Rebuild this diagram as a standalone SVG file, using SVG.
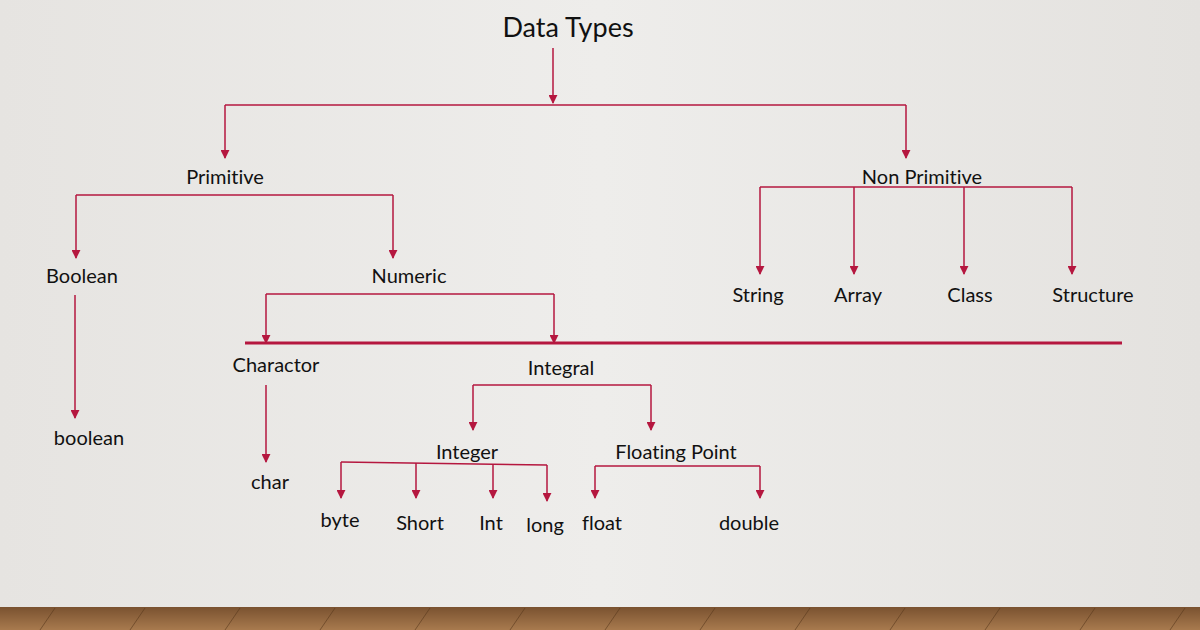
<svg xmlns="http://www.w3.org/2000/svg" width="1200" height="630" viewBox="0 0 1200 630">
<defs>
<linearGradient id="bg" x1="0" y1="0" x2="1" y2="0"><stop offset="0" stop-color="#e6e4e1"/><stop offset="0.5" stop-color="#eeedeb"/><stop offset="1" stop-color="#e4e2df"/></linearGradient>
<linearGradient id="wood" x1="0" y1="0" x2="0" y2="1"><stop offset="0" stop-color="#7a5230"/><stop offset="1" stop-color="#a87a4e"/></linearGradient>
<marker id="ah" viewBox="0 0 10 10" refX="9" refY="5" markerWidth="6" markerHeight="6" orient="auto"><path d="M0,0 L10,5 L0,10 z" fill="#b5173f"/></marker>
</defs>
<style>
text{font-family:Lato,"Open Sans","Liberation Sans",sans-serif;fill:#111;text-anchor:middle;font-size:20px;font-variant-ligatures:none}
text.t{font-size:27px}
.c{fill:none;stroke:#b5173f;stroke-width:1.5}
.a{marker-end:url(#ah)}
</style>
<rect width="1200" height="630" fill="url(#bg)"/>
<rect y="607" width="1200" height="23" fill="url(#wood)"/>
<g stroke="#5a3a1e" stroke-width="1" opacity="0.6">
<path d="M40,630 L55,608 M130,630 L145,608 M225,630 L240,608 M320,630 L335,608 M415,630 L430,608 M510,630 L525,608 M605,630 L620,608 M700,630 L715,608 M795,630 L810,608 M890,630 L905,608 M985,630 L1000,608 M1080,630 L1095,608 M1170,630 L1185,608"/>
</g>
<g id="connectors">
<path class="c a" d="M553,48 V103"/>
<path class="c" d="M225,105 H906"/>
<path class="c a" d="M225,105 V158"/><path class="c a" d="M906,105 V158"/>
<path class="c" d="M76,195 H393"/>
<path class="c a" d="M76,195 V258"/><path class="c a" d="M393,195 V258"/>
<path class="c a" d="M75,295 V418"/>
<path class="c" d="M266,294 H554"/>
<path class="c a" d="M266,294 V343"/><path class="c a" d="M554,294 V343"/>
<path d="M245,343 H1122" stroke="#b5173f" stroke-width="3"/>
<path class="c a" d="M266,385 V462"/>
<path class="c" d="M473,385 H651"/>
<path class="c a" d="M473,385 V430"/><path class="c a" d="M651,385 V430"/>
<path class="c" d="M341,462 L547,465"/>
<path class="c a" d="M341,462 V498"/><path class="c a" d="M416,463 V498"/><path class="c a" d="M493,464 V498"/><path class="c a" d="M547,465 V501"/>
<path class="c" d="M595,466 H760"/>
<path class="c a" d="M595,466 V498"/><path class="c a" d="M760,466 V498"/>
<path class="c" d="M760,187 H1072"/>
<path class="c a" d="M760,187 V274"/><path class="c a" d="M854,187 V274"/><path class="c a" d="M964,187 V274"/><path class="c a" d="M1072,187 V274"/>
</g>
<g id="data-types"><text class="t" x="568" y="37">Data Types</text></g>
<g id="primitive"><text x="225" y="184">Primitive</text></g>
<g id="non-primitive"><text x="922" y="184">Non Primitive</text></g>
<g id="boolean-cat"><text x="82" y="283">Boolean</text></g>
<g id="numeric"><text x="409" y="283">Numeric</text></g>
<g id="boolean"><text x="89" y="445">boolean</text></g>
<g id="charactor"><text x="276" y="372">Charactor</text></g>
<g id="integral"><text x="561" y="375">Integral</text></g>
<g id="char"><text x="270" y="489">char</text></g>
<g id="integer"><text x="467" y="459">Integer</text></g>
<g id="floating"><text x="676" y="459">Floating Point</text></g>
<g id="byte"><text x="340" y="527">byte</text></g>
<g id="short"><text x="420" y="530">Short</text></g>
<g id="int"><text x="491" y="530">Int</text></g>
<g id="long"><text x="545" y="532">long</text></g>
<g id="float"><text x="602" y="530">float</text></g>
<g id="double"><text x="749" y="530">double</text></g>
<g id="string"><text x="758" y="302">String</text></g>
<g id="array"><text x="858" y="302">Array</text></g>
<g id="class"><text x="970" y="302">Class</text></g>
<g id="structure"><text x="1093" y="302">Structure</text></g>
</svg>
